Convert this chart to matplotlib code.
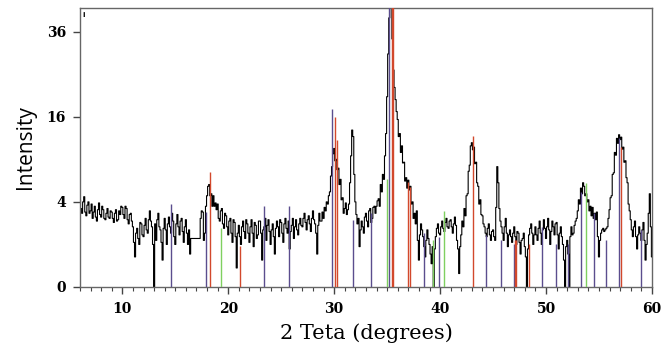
import matplotlib
matplotlib.use('Agg')
import matplotlib.pyplot as plt
import numpy as np

## DATA ##

# measured scan, one value every 0.1 deg from 6 to 60 (one row per degree)
two_theta = np.arange(6.0, 60.001, 0.1)
intensity = [
  4.2, 3.4, 3.0, 4.0, 4.5, 3.1, 2.8, 3.7, 4.0, 3.0,   # 6
  3.2, 3.8, 2.6, 3.1, 3.6, 2.7, 2.4, 3.3, 3.9, 2.9,   # 7
  2.7, 3.6, 3.3, 2.6, 2.5, 3.0, 3.4, 2.7, 2.6, 3.2,   # 8
  3.1, 2.6, 2.3, 3.0, 3.3, 2.4, 2.5, 3.2, 2.9, 3.6,   # 9
  3.5, 2.9, 2.6, 3.6, 3.4, 2.5, 2.2, 2.9, 3.0, 2.4,   # 10
  2.0, 1.1, 0.5, 1.6, 1.9, 1.3, 1.0, 2.3, 2.2, 1.5,   # 11
  1.4, 2.1, 2.6, 1.8, 1.6, 2.5, 3.2, 2.4, 2.0, 1.0,   # 12
  0.0, 2.2, 1.2, 2.5, 3.0, 2.0, 1.8, 1.1, 0.4, 1.9,   # 13
  2.6, 1.8, 1.0, 2.2, 2.7, 2.0, 1.6, 3.0, 2.4, 1.4,   # 14
  1.0, 2.2, 2.9, 2.0, 1.5, 2.4, 2.6, 1.7, 1.1, 2.0,   # 15
  2.5, 1.6, 1.0, 1.8, 0.6, 1.3, 1.3, 1.3, 1.3, 1.3,   # 16
  1.3, 1.3, 1.3, 1.3, 2.6, 3.2, 3.1, 1.2, 1.6, 3.6,   # 17
  4.6, 5.6, 5.8, 4.6, 4.8, 3.6, 4.6, 3.6, 3.9, 3.3,   # 18
  3.8, 2.6, 2.4, 3.2, 3.4, 2.2, 1.9, 3.0, 2.8, 2.0,   # 19
  1.5, 2.4, 2.6, 1.6, 1.1, 2.5, 2.3, 1.4, 0.2, 1.6,   # 20
  2.1, 1.4, 1.0, 2.0, 2.4, 1.7, 1.3, 2.5, 2.2, 1.6,   # 21
  1.1, 2.0, 2.5, 1.6, 0.9, 2.3, 2.1, 1.3, 1.5, 2.4,   # 22
  2.4, 1.6, 0.4, 1.8, 2.0, 2.6, 1.2, 2.1, 2.5, 1.7,   # 23
  1.0, 1.8, 2.2, 1.4, 0.6, 1.9, 2.4, 2.0, 1.4, 2.5,   # 24
  2.3, 1.6, 1.1, 2.2, 2.6, 1.9, 1.6, 2.4, 0.8, 1.7,   # 25
  2.1, 2.6, 1.3, 2.0, 2.5, 1.8, 1.5, 2.2, 2.6, 2.1,   # 26
  2.0, 2.6, 3.0, 2.3, 1.8, 2.5, 2.8, 2.2, 1.7, 2.6,   # 27
  3.2, 2.5, 2.2, 1.6, 0.6, 2.1, 3.0, 2.4, 2.4, 3.1,   # 28
  2.6, 3.5, 3.2, 4.0, 3.8, 4.6, 5.0, 6.8, 8.0, 9.8,   # 29
  10.6, 8.8, 9.0, 7.6, 7.8, 5.8, 6.4, 4.2, 4.4, 3.0,  # 30
  3.4, 3.9, 2.9, 3.3, 3.8, 6.0, 9.5, 13.6, 12.5, 7.0,  # 31
  4.0, 2.9, 2.2, 2.6, 0.9, 1.8, 2.4, 2.0, 1.6, 2.7,   # 32
  3.0, 2.4, 2.0, 3.2, 3.4, 2.3, 2.6, 3.5, 3.6, 3.0,   # 33
  3.6, 4.1, 4.3, 3.6, 5.8, 5.0, 7.0, 6.4, 9.5, 13.0,  # 34
  20.0, 30.0, 40.0, 46.0, 45.0, 34.0, 26.0, 22.0, 19.4, 17.0,  # 35
  15.5, 12.5, 13.0, 10.0, 11.0, 8.5, 8.6, 6.2, 6.6, 5.4,  # 36
  6.3, 5.2, 5.6, 3.8, 4.0, 2.6, 3.0, 2.2, 3.2, 1.2,   # 37
  0.4, 1.5, 2.2, 1.8, 1.4, 0.9, 0.5, 1.2, 1.8, 1.3,   # 38
  1.0, 0.6, 0.3, 0.9, 0.0, 0.8, 1.4, 1.9, 2.2, 1.6,   # 39
  1.5, 2.0, 2.4, 1.9, 1.7, 2.3, 2.6, 2.0, 1.9, 2.4,   # 40
  2.5, 2.0, 1.6, 2.2, 2.7, 2.1, 1.2, 0.8, 0.1, 0.9,   # 41
  1.5, 2.4, 2.0, 3.4, 2.8, 4.6, 4.8, 7.4, 8.2, 11.0,  # 42
  11.5, 10.4, 10.8, 8.4, 8.6, 6.0, 5.6, 3.8, 4.2, 2.9,  # 43
  2.8, 2.2, 2.0, 1.6, 1.4, 1.9, 2.2, 1.5, 1.2, 1.7,   # 44
  1.8, 1.4, 1.2, 3.5, 8.0, 6.0, 3.4, 2.4, 2.0, 1.6,   # 45
  1.2, 2.0, 2.6, 1.6, 0.9, 1.5, 1.8, 1.4, 1.1, 1.6,   # 46
  2.0, 1.4, 1.0, 1.7, 1.6, 1.1, 0.6, 1.2, 1.3, 1.6,   # 47
  0.9, 0.5, 0.0, 0.8, 1.5, 1.9, 2.2, 1.6, 1.0, 1.5,   # 48
  2.0, 1.5, 1.2, 1.9, 2.4, 1.6, 1.0, 1.8, 2.5, 1.9,   # 49
  1.3, 2.0, 2.6, 1.8, 1.0, 1.7, 2.4, 2.0, 1.5, 2.2,   # 50
  2.3, 1.5, 0.8, 1.6, 2.0, 1.4, 1.0, 0.4, 0.0, 0.9,   # 51
  1.2, 0.6, 0.0, 1.4, 2.0, 1.5, 1.6, 2.1, 2.4, 2.6,   # 52
  3.2, 4.2, 3.8, 5.4, 4.8, 6.0, 5.6, 4.6, 4.8, 4.0,   # 53
  4.2, 3.2, 3.6, 2.8, 3.5, 2.6, 3.0, 2.5, 3.1, 1.4,   # 54
  0.5, 1.2, 1.6, 1.8, 1.9, 1.7, 1.8, 1.9, 2.0, 2.6,   # 55
  3.3, 4.4, 4.6, 7.0, 7.2, 10.0, 9.6, 12.2, 11.4, 12.8,  # 56
  12.0, 12.4, 10.5, 10.8, 8.6, 8.8, 6.6, 6.0, 3.8, 3.2,  # 57
  2.5, 1.8, 1.4, 2.0, 2.4, 1.4, 0.8, 1.5, 2.0, 1.6,   # 58
  1.2, 1.8, 2.3, 1.2, 0.4, 1.0, 1.6, 3.0, 4.8, 2.0,   # 59
  0.5,                                                # 60
]

# reference patterns (stick positions and heights)
phase_a_pos = [14.55, 17.93, 23.33, 25.76, 29.83, 31.73, 33.46, 35.17, 38.45, 39.93,
               44.3, 45.75, 47.0, 49.6, 50.91, 52.08, 53.3, 54.5, 55.7, 56.88, 59.0]
phase_a_int = [3.8, 3.1, 3.6, 3.6, 17.5, 2.5, 3.0, 50.0, 1.6, 1.4,
               1.5, 1.2, 1.0, 2.0, 1.0, 1.0, 5.0, 3.0, 1.2, 12.3, 1.8]

phase_b_pos = [18.25, 21.09, 30.08, 30.24, 35.45, 35.52, 36.93, 37.12, 43.09, 47.1, 47.16, 48.39, 57.1]
phase_b_int = [7.3, 0.93, 16.0, 12.0, 50.0, 50.0, 6.1, 5.5, 12.6, 1.2, 1.2, 1.0, 10.9]

phase_c_pos = [19.35, 34.95, 39.37, 40.41, 53.73]
phase_c_int = [1.9, 6.5, 1.2, 3.2, 6.0]

y_ticks = [0, 4, 16, 36]
x_ticks = [10, 20, 30, 40, 50, 60]


## PLOT ##

def sqrt_fwd(v):
  return np.sqrt(np.clip(v, 0, None))

def sqrt_inv(v):
  return np.square(v)

fig = plt.figure(figsize=(6.62, 3.52), dpi=100)
ax = fig.add_axes([0.1208, 0.1847, 0.864, 0.7926])
ax.set_yscale('function', functions=(sqrt_fwd, sqrt_inv))

ax.plot(two_theta, intensity, color='black', lw=0.8, drawstyle='steps-mid', zorder=2)
ax.vlines(phase_a_pos, 0, phase_a_int, colors='#5b4d8e', lw=1.0, zorder=3)
ax.vlines(phase_b_pos, 0, phase_b_int, colors='#d2482c', lw=1.0, zorder=3)
ax.vlines(phase_c_pos, 0, phase_c_int, colors='#7fd060', lw=1.0, zorder=3)

ax.set_xlim(6, 60)
ax.set_ylim(0, 43)
ax.set_xticks(x_ticks)
ax.set_xticks(np.arange(6, 61, 1), minor=True)
ax.set_yticks(y_ticks)

for sp in ax.spines.values():
  sp.set_color('#666666')
  sp.set_linewidth(1.0)
ax.tick_params(axis='both', which='major', direction='out', length=5, width=1, color='#444444')
ax.tick_params(axis='x', which='minor', direction='out', length=3, width=0.8, color='#444444')
ax.tick_params(axis='y', which='minor', length=0)
for lab in ax.get_xticklabels() + ax.get_yticklabels():
  lab.set_fontfamily('DejaVu Serif')
  lab.set_fontweight('bold')
  lab.set_fontsize(10)
ax.tick_params(axis='x', pad=6)
ax.tick_params(axis='y', pad=5)

ax.set_xlabel('2 Teta (degrees)', family='DejaVu Serif', fontsize=15, labelpad=5)
ax.set_ylabel('Intensity', family='Open Sans', fontsize=15, labelpad=8)
ax.text(0.004, 0.985, 'i', transform=ax.transAxes, fontsize=5, fontweight='bold',
        va='top', ha='left')

fig.savefig('out.png', dpi=100)
